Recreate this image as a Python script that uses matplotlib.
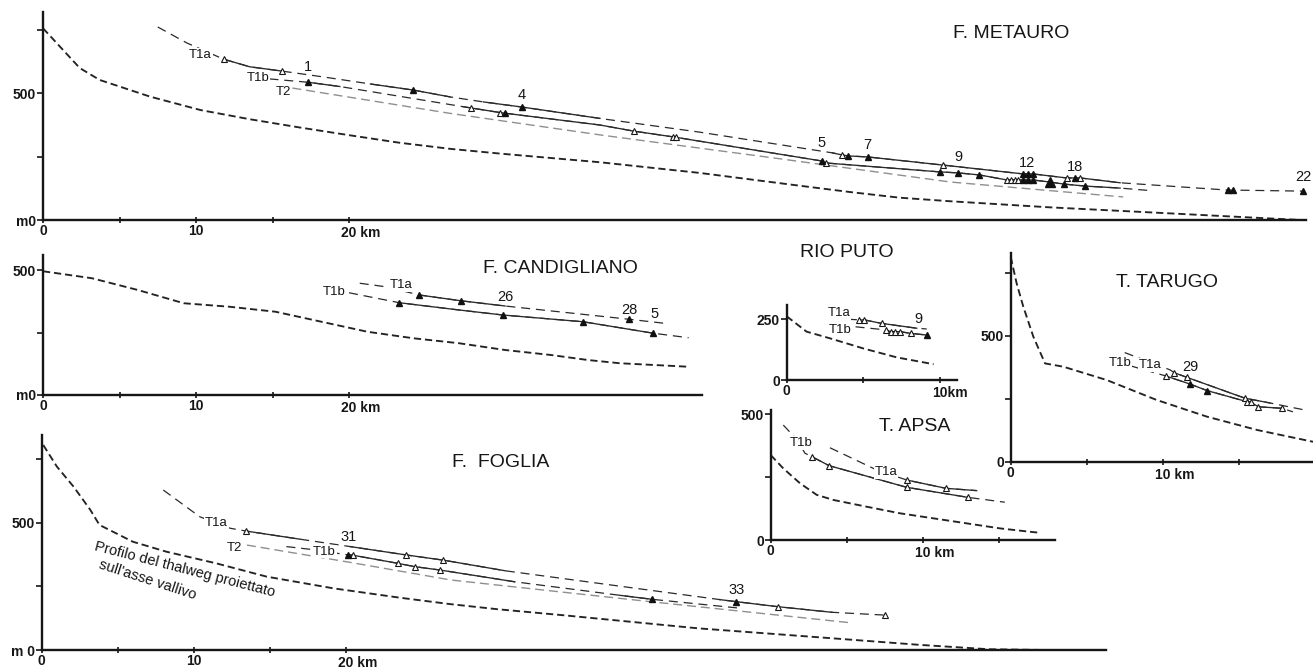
import numpy as np
import matplotlib.pyplot as plt

plt.rcParams['font.family'] = ['Liberation Sans', 'DejaVu Sans']
plt.rcParams['lines.scale_dashes'] = False

# ---------------- F. METAURO ----------------
met_thal_km = [0, 2.4, 3.7, 7.0, 10.3, 13.5, 16.8, 20.1, 23.3, 26.6, 29.9, 36.4, 42.9,
               49.5, 52.8, 56.0, 59.3, 65.8, 72.4, 78.9, 82.2]
met_thal_m = [757, 600, 553, 487, 434, 398, 365, 334, 305, 281, 262, 228, 186,
              135, 110, 88, 74, 50, 30, 10, 0]

met_t1a_km = [7.5, 9.4, 11.8, 13.5, 15.6, 18.3, 21.4, 24.2, 26.6, 28.8, 31.3, 36.4, 42.9,
              51.6, 52.2, 52.6, 53.9, 58.8, 64.05, 64.7, 66.9, 67.8, 70.4, 77.45, 77.8, 82.35]
met_t1a_m = [762, 699, 635, 605, 588, 565, 537, 513, 486, 466, 446, 401, 347,
             265, 257, 253, 249, 217, 182, 182, 166, 166, 147, 118, 118, 114]
met_t1a_open = [11.8, 15.6, 52.2, 58.8, 66.9, 67.8]
met_t1a_filled = [24.2, 31.3, 52.6, 53.9, 64.05, 64.4, 64.7, 67.45, 77.45, 77.8, 82.35]

met_t1b_km = [14.8, 17.3, 19.4, 28.0, 30.0, 36.4, 38.6, 41.2, 50.9, 51.2, 58.6, 59.8,
              61.2, 63.0, 64.7, 65.8, 66.7, 68.1, 70.4, 72.4]
met_t1b_m = [557, 544, 527, 442, 423, 375, 351, 328, 233, 225, 190, 186,
             178, 158, 158, 150, 142, 134, 126, 116]
met_t1b_open = [28.0, 29.9, 38.6, 41.2, 41.4, 51.2, 63.0, 63.25, 63.5, 63.75]
met_t1b_filled = [17.3, 30.2, 50.9, 58.6, 59.8, 61.2, 64.05, 64.4, 64.7, 66.7, 68.1]
met_t1b_big = [65.8]

met_t2_km = [16.3, 26.6, 36.4, 48.0, 59.3, 70.6]
met_t2_m = [521, 421, 336, 243, 150, 91]

met_labels = [('T1a', 10.3, 651), ('T1b', 14.05, 561), ('T2', 15.7, 505)]
met_sites = [('1', 17.3, 604), ('4', 31.3, 493), ('5', 50.9, 304), ('7', 53.9, 296),
             ('9', 59.8, 249), ('12', 64.3, 225), ('18', 67.45, 209), ('22', 82.4, 170)]

# ---------------- F. CANDIGLIANO ----------------
can_thal_km = [0, 3.2, 6.2, 9.2, 12.2, 15.2, 18.2, 21.2, 24.2, 27.2, 30.2, 33.2, 35.6, 37.7, 42.2]
can_thal_m = [495, 467, 420, 367, 353, 333, 293, 253, 227, 207, 180, 160, 140, 127, 113]

can_t1a_km = [20.7, 22.4, 24.6, 27.3, 30.2, 38.3, 40.6]
can_t1a_m = [447, 433, 400, 377, 356, 303, 287]
can_t1a_filled = [24.6, 27.3, 38.3]

can_t1b_km = [20.0, 23.3, 27.2, 30.05, 35.3, 39.9, 42.2]
can_t1b_m = [409, 369, 340, 320, 293, 247, 229]
can_t1b_filled = [23.3, 30.05, 35.3, 39.9]

can_labels = [('T1b', 19.0, 413), ('T1a', 23.4, 440)]
can_sites = [('26', 30.2, 393), ('28', 38.3, 340), ('5', 40.0, 324)]

# ---------------- RIO PUTO ----------------
put_thal_km = [0, 1.3, 2.8, 5.0, 7.2, 9.6]
put_thal_m = [262, 199, 172, 130, 93, 65]

put_t1a_km = [4.0, 4.9, 5.1, 6.2, 8.5, 9.15]
put_t1a_m = [250, 247, 247, 233, 213, 210]
put_t1a_open = [4.7, 5.05, 6.2]

put_t1b_km = [4.5, 6.5, 6.75, 7.1, 7.4, 8.1, 9.15]
put_t1b_m = [219, 206, 199, 199, 199, 192, 185]
put_t1b_open = [6.5, 6.8, 7.1, 7.4, 8.1]
put_t1b_filled = [9.15]

put_labels = [('T1a', 3.4, 274), ('T1b', 3.5, 206)]
put_sites = [('9', 8.6, 250)]

# ---------------- T. APSA ----------------
aps_thal_km = [0, 0.83, 1.93, 3.03, 4.12, 6.32, 8.5, 10.7, 12.9, 15.1, 17.0, 17.65]
aps_thal_m = [337, 284, 225, 179, 159, 132, 106, 86, 66, 46, 33, 29]

aps_t1b_km = [0.83, 1.7, 2.26, 2.7, 3.84, 8.95, 13.0, 15.4]
aps_t1b_m = [456, 400, 344, 331, 295, 209, 169, 150]
aps_t1b_open = [2.7, 3.84, 8.95, 13.0]

aps_t1a_km = [3.9, 6.97, 8.95, 11.53, 13.55]
aps_t1a_m = [366, 278, 238, 205, 196]
aps_t1a_open = [8.95, 11.53]

aps_labels = [('T1b', 2.0, 384), ('T1a', 7.6, 270)]

# ---------------- T. TARUGO ----------------
tar_thal_km = [0, 0.39, 0.83, 1.49, 2.26, 3.46, 6.32, 9.6, 12.9, 16.2, 19.9]
tar_thal_m = [813, 708, 615, 496, 390, 377, 324, 245, 179, 126, 79]

tar_t1a_km = [7.5, 10.5, 10.76, 11.58, 15.41, 17.06, 19.36]
tar_t1a_m = [433, 364, 353, 335, 252, 233, 205]
tar_t1a_open = [10.76, 11.58, 15.41]

tar_t1b_km = [7.9, 10.22, 11.8, 12.93, 15.55, 15.74, 16.29, 17.83, 18.57]
tar_t1b_m = [380, 340, 308, 282, 238, 238, 218, 212, 198]
tar_t1b_open = [10.22, 15.55, 15.8, 16.29, 17.83]
tar_t1b_filled = [11.8, 12.93]

tar_labels = [('T1b', 7.2, 390), ('T1a', 9.2, 384)]
tar_sites = [('29', 11.8, 377)]

# ---------------- F. FOGLIA ----------------
fog_thal_km = [0.1, 1.0, 2.1, 3.2, 3.8, 6.0, 8.2, 11.5, 14.8, 19.2, 23.6, 26.9, 30.0,
               34.4, 43.2, 52.0, 57.8, 62.3, 66.0]
fog_thal_m = [805, 720, 641, 550, 491, 425, 386, 340, 288, 242, 205, 180, 160,
              136, 85, 46, 20, 3, 0]

fog_t1a_km = [8.0, 10.4, 12.4, 13.44, 17.0, 20.3, 24.0, 26.4, 30.5, 44.6, 45.66, 48.44, 52.0, 55.48]
fog_t1a_m = [628, 523, 478, 467, 435, 406, 373, 353, 311, 198, 190, 170, 148, 137]
fog_t1a_open = [13.44, 24.0, 26.4, 48.44, 55.48]
fog_t1a_filled = [45.66]

fog_t1b_km = [16.1, 18.0, 20.17, 20.39, 23.46, 24.56, 26.2, 31.1, 38.0, 40.16, 45.8]
fog_t1b_m = [406, 393, 373, 373, 340, 327, 314, 268, 215, 199, 165]
fog_t1b_open = [20.5, 23.46, 24.56, 26.2]
fog_t1b_filled = [20.17, 40.16]

fog_t2_km = [13.5, 20.2, 26.9, 40.0, 53.2]
fog_t2_m = [412, 345, 275, 190, 107]

fog_labels = [('T1a', 11.5, 497), ('T2', 12.7, 399), ('T1b', 18.6, 386)]
fog_sites = [('31', 20.2, 445), ('33', 45.7, 236)]

# ---------------- drawing ----------------
W, H = 1313, 670
fig = plt.figure(figsize=(W / 100, H / 100), dpi=100)
fig.patch.set_facecolor('white')

INK = '#161616'
THALWEG = dict(color='#232323', lw=1.35, linestyle=(0, (5.2, 2.8)), clip_on=False)
DASHED = dict(color='#2a2a2a', lw=0.9, linestyle=(0, (6.5, 4.2)), clip_on=False)
SOLID = dict(color='#2a2a2a', lw=0.95, clip_on=False)
GREY = dict(color='#8f8f8f', lw=1.0, linestyle=(0, (6.5, 3.5)), clip_on=False)


def make_panel(x0, y0, x1, y1, sx, sy):
    # (x0, y0) origin in pixels, x1 right end, y1 top end, sx px/km, sy px/m
    ax = fig.add_axes([x0 / W, 1 - y0 / H, (x1 - x0) / W, (y0 - y1) / H])
    ax.set_xlim(0, (x1 - x0) / sx)
    ax.set_ylim(0, (y0 - y1) / sy)
    ax.patch.set_alpha(0)
    for s in ('top', 'right'):
        ax.spines[s].set_visible(False)
    for s in ('left', 'bottom'):
        ax.spines[s].set_linewidth(1.7)
        ax.spines[s].set_color(INK)
    ax.tick_params(axis='y', direction='out', length=4, width=1.2, pad=1, colors=INK)
    ax.tick_params(axis='x', direction='inout', length=5, width=1.2, pad=0.5, colors=INK)
    return ax


def axis_ticks(ax, xt, xl, yt, yl, km_at=None, km_text=' km'):
    ax.set_xticks(xt, xl, fontsize=10, fontweight='bold')
    ax.set_yticks(yt, yl, fontsize=10, fontweight='bold')
    if km_at is not None:
        ax.annotate(f'{km_at}{km_text}', xy=(km_at, 0), xytext=(-5.8, -4.3),
                    textcoords='offset points', ha='left', va='top',
                    fontsize=10, fontweight='bold', color=INK)


def terrace(ax, km, m, solid=(), style=DASHED):
    ax.plot(km, m, **style)
    for a, b in solid:
        xs = [a] + [k for k in km if a < k < b] + [b]
        ax.plot(xs, np.interp(xs, km, m), **SOLID)


def sites(ax, km, m, open_=(), filled=(), big=()):
    if len(open_):
        ax.plot(open_, np.interp(open_, km, m), '^', ms=4.6, mfc='white', mec=INK,
                mew=0.8, clip_on=False, zorder=4)
    if len(filled):
        ax.plot(filled, np.interp(filled, km, m), '^', ms=4.3, color='#111111',
                clip_on=False, zorder=4)
    if len(big):
        ax.plot(big, np.interp(big, km, m), '^', ms=7, color='#111111',
                clip_on=False, zorder=4)


def labels(ax, items, size=9.5):
    for s, x, y in items:
        ax.text(x, y, s, ha='center', va='center', fontsize=size, color=INK,
                bbox=dict(fc='white', ec='none', pad=0.6), zorder=5)


def numbers(ax, items):
    for s, x, y in items:
        ax.text(x, y, s, ha='center', va='center', fontsize=10.5, color=INK, zorder=5)


def title(ax, s, x, y):
    ax.text(x, y, s, ha='center', va='center', fontsize=14, color=INK)


# F. Metauro
ax = make_panel(43, 220, 1306, 12, 15.3, 0.2533)
axis_ticks(ax, [0, 5, 10, 15, 20], ['0', '', '10', '', ''],
           [0, 250, 500, 750], ['m0', '', '500', ''], km_at=20)
ax.plot(met_thal_km, met_thal_m, **THALWEG)
terrace(ax, met_t1a_km, met_t1a_m, [(11.8, 15.6), (21.4, 26.6), (28.8, 36.4), (51.6, 70.4)])
terrace(ax, met_t1b_km, met_t1b_m, [(17.3, 19.4), (27.45, 70.4)])
ax.plot(met_t2_km, met_t2_m, **GREY)
sites(ax, met_t1a_km, met_t1a_m, met_t1a_open, met_t1a_filled)
sites(ax, met_t1b_km, met_t1b_m, met_t1b_open, met_t1b_filled, met_t1b_big)
labels(ax, met_labels)
numbers(ax, met_sites)
title(ax, 'F. METAURO', 63.3, 738)

# F. Candigliano
ax = make_panel(43, 395, 702, 255, 15.3, 0.25)
axis_ticks(ax, [0, 5, 10, 15, 20], ['0', '', '10', '', ''],
           [0, 250, 500], ['m0', '', '500'], km_at=20)
ax.plot(can_thal_km, can_thal_m, **THALWEG)
terrace(ax, can_t1a_km, can_t1a_m, [(24.6, 30.2)])
terrace(ax, can_t1b_km, can_t1b_m, [(23.3, 39.9)])
sites(ax, can_t1a_km, can_t1a_m, filled=can_t1a_filled)
sites(ax, can_t1b_km, can_t1b_m, filled=can_t1b_filled)
labels(ax, can_labels)
numbers(ax, can_sites)
title(ax, 'F. CANDIGLIANO', 33.8, 508)

# Rio Puto
ax = make_panel(786.7, 380, 956.7, 305, 15.3, 0.243)
axis_ticks(ax, [0, 5, 10], ['0', '', ''], [0, 250], ['0', '250'], km_at=10, km_text='km')
ax.plot(put_thal_km, put_thal_m, **THALWEG)
terrace(ax, put_t1a_km, put_t1a_m, [(4.9, 8.5)])
terrace(ax, put_t1b_km, put_t1b_m, [(6.5, 9.15)])
sites(ax, put_t1a_km, put_t1a_m, put_t1a_open)
sites(ax, put_t1b_km, put_t1b_m, put_t1b_open, put_t1b_filled)
labels(ax, put_labels)
numbers(ax, put_sites)
title(ax, 'RIO PUTO', 3.96, 523)

# T. Apsa
ax = make_panel(770.7, 540, 1055, 410, 15.2, 0.252)
axis_ticks(ax, [0, 5, 10, 15], ['0', '', '', ''], [0, 250, 500], ['0', '', '500'], km_at=10)
ax.plot(aps_thal_km, aps_thal_m, **THALWEG)
terrace(ax, aps_t1b_km, aps_t1b_m, [(2.7, 13.0)])
terrace(ax, aps_t1a_km, aps_t1a_m, [(8.95, 13.55)])
sites(ax, aps_t1b_km, aps_t1b_m, aps_t1b_open)
sites(ax, aps_t1a_km, aps_t1a_m, aps_t1a_open)
labels(ax, aps_labels)
title(ax, 'T. APSA', 9.5, 452)

# T. Tarugo
ax = make_panel(1010.7, 461.7, 1313, 253, 15.2, 0.252)
axis_ticks(ax, [0, 5, 10, 15], ['0', '', '', ''], [0, 250, 500, 750], ['0', '', '500', ''], km_at=10)
ax.plot(tar_thal_km, tar_thal_m, **THALWEG)
terrace(ax, tar_t1a_km, tar_t1a_m, [(10.76, 17.06)])
terrace(ax, tar_t1b_km, tar_t1b_m, [(10.22, 17.83)])
sites(ax, tar_t1a_km, tar_t1a_m, tar_t1a_open)
sites(ax, tar_t1b_km, tar_t1b_m, tar_t1b_open, tar_t1b_filled)
labels(ax, tar_labels)
numbers(ax, tar_sites)
title(ax, 'T. TARUGO', 10.3, 712)

# F. Foglia
ax = make_panel(41.7, 650, 1106, 435, 15.2, 0.2547)
axis_ticks(ax, [0, 5, 10, 15, 20], ['0', '', '10', '', ''],
           [0, 250, 500, 750], ['m 0', '', '500', ''], km_at=20)
ax.plot(fog_thal_km, fog_thal_m, **THALWEG)
terrace(ax, fog_t1a_km, fog_t1a_m, [(13.44, 17.0), (20.3, 30.5), (44.6, 52.0)])
terrace(ax, fog_t1b_km, fog_t1b_m, [(20.17, 31.1), (38.0, 40.16)])
ax.plot(fog_t2_km, fog_t2_m, **GREY)
sites(ax, fog_t1a_km, fog_t1a_m, fog_t1a_open, fog_t1a_filled)
sites(ax, fog_t1b_km, fog_t1b_m, fog_t1b_open, fog_t1b_filled)
labels(ax, fog_labels)
numbers(ax, fog_sites)
title(ax, 'F.  FOGLIA', 30.2, 738)
ax.text(3.4, 392, 'Profilo del thalweg proiettato', rotation=-14.5, rotation_mode='anchor',
        ha='left', va='baseline', fontsize=10.5, color=INK)
ax.text(3.7, 322, "sull'asse vallivo", rotation=-18, rotation_mode='anchor',
        ha='left', va='baseline', fontsize=10.5, color=INK)

fig.savefig('out.png', dpi=100, facecolor='white')
